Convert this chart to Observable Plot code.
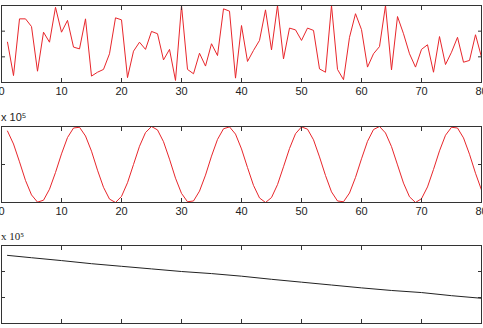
<!DOCTYPE html>
<html>
<head>
<meta charset="utf-8">
<script src="https://cdn.jsdelivr.net/npm/d3@7"></script>
<script src="https://cdn.jsdelivr.net/npm/@observablehq/plot@0.6"></script>
<style>
  html, body { margin: 0; padding: 0; background: #fff; }
  #chart svg { display: block; }
</style>
</head>
<body>
<div id="chart"></div>
<script>
// x positions (samples 1..80)
const xLabelTicks = [0, 10, 20, 30, 40, 50, 60, 70, 80];
const xInnerTicks = [10, 20, 30, 40, 50, 60, 70];

// Panel 1: noisy red series
const noiseValues = [
  1.57, 0.27, 2.48, 2.48, 2.18, 0.44, 1.96, 1.57, 2.93, 1.96,
  2.42, 1.38, 1.31, 2.48, 0.25, 0.40, 0.51, 1.12, 2.52, 2.44,
  0.19, 1.22, 1.57, 1.29, 1.99, 1.90, 0.88, 1.29, 0.08, 3.00,
  0.51, 0.34, 1.14, 0.64, 1.51, 1.05, 2.87, 2.78, 0.17, 2.22,
  0.82, 1.25, 1.64, 2.83, 1.27, 3.00, 0.92, 2.12, 2.05, 1.64,
  2.12, 2.03, 0.53, 0.40, 3.00, 0.51, 0.11, 1.76, 2.68, 2.06,
  0.60, 1.12, 1.40, 3.00, 0.49, 2.57, 1.90, 1.12, 0.60, 1.29,
  1.47, 0.40, 1.79, 0.70, 1.18, 1.76, 0.79, 0.86, 1.86, 0.99
];
const noiseYTicks = [1, 2];

// Panel 2: oscillating red series (x 10^5)
const waveValues = [
  0.88, 0.54, 0.07, -0.42, -0.80, -0.99, -0.94, -0.65, -0.21, 0.28,
  0.71, 0.96, 0.98, 0.75, 0.35, -0.15, -0.60, -0.91, -1.00, -0.84,
  -0.48, 0.00, 0.48, 0.84, 1.00, 0.91, 0.60, 0.14, -0.36, -0.76,
  -0.98, -0.96, -0.70, -0.28, 0.22, 0.66, 0.94, 0.99, 0.80, 0.41,
  -0.08, -0.55, -0.88, -1.00, -0.87, -0.53, -0.06, 0.42, 0.81, 0.99,
  0.93, 0.65, 0.20, -0.29, -0.72, -0.96, -0.98, -0.75, -0.34, 0.15,
  0.61, 0.92, 1.00, 0.83, 0.47, -0.01, -0.49, -0.85, -1.00, -0.90,
  -0.59, -0.13, 0.36, 0.77, 0.98, 0.96, 0.70, 0.27, -0.23, -0.67
];
const waveYTicks = [0];

// Panel 3: slowly decreasing black series (x 10^5)
const trendX = [1, 5, 10, 15, 20, 25, 30, 35, 40, 45, 50, 55, 60, 65, 70, 75, 80];
const trendValues = [2.62, 2.53, 2.42, 2.30, 2.20, 2.10, 2.00, 1.92, 1.82, 1.70, 1.59, 1.48, 1.37, 1.27, 1.19, 1.07, 0.97];
const trendYTicks = [1, 2];

const scaleLabel = "x 10⁵";

const FONT = "'Liberation Sans', Arial, sans-serif";
const AX = "#333";

function axes(yTicks, showLabels) {
  const m = [
    Plot.frame({stroke: AX, strokeWidth: 1}),
    Plot.axisX(xInnerTicks, {anchor: "bottom", tickSize: -4, tickFormat: () => "", stroke: AX}),
    Plot.axisX(xInnerTicks, {anchor: "top", tickSize: -4, tickFormat: () => "", stroke: AX}),
    Plot.axisY(yTicks, {anchor: "left", tickSize: -4, tickFormat: () => "", stroke: AX}),
    Plot.axisY(yTicks, {anchor: "right", tickSize: -4, tickFormat: () => "", stroke: AX})
  ];
  if (showLabels) {
    m.push(Plot.axisX(xLabelTicks, {anchor: "bottom", tickSize: 0, tickPadding: 5, fontSize: 11, fill: "#222", label: null}));
  }
  return m;
}

function panel({height, marginTop, marginBottom, yDomain, marks}) {
  return Plot.plot({
    width: 483,
    height,
    marginLeft: 1,
    marginRight: 2,
    marginTop,
    marginBottom,
    style: {fontFamily: FONT, fontSize: "11px", color: "#222", background: "#fff"},
    x: {domain: [0, 80], label: null},
    y: {domain: yDomain, label: null},
    marks
  });
}

const noiseData = noiseValues.map((v, i) => ({x: i + 1, y: v}));
const waveData = waveValues.map((v, i) => ({x: i + 1, y: v}));
const trendData = trendValues.map((v, i) => ({x: trendX[i], y: v}));

const p1 = panel({
  height: 100, marginTop: 5, marginBottom: 18, yDomain: [0, 3],
  marks: [
    Plot.lineY(noiseData, {x: "x", y: "y", stroke: "#e8262b", strokeWidth: 1, clip: true}),
    ...axes(noiseYTicks, true)
  ]
});

const p2 = panel({
  height: 120, marginTop: 26, marginBottom: 18, yDomain: [-1, 1],
  marks: [
    Plot.lineY(waveData, {x: "x", y: "y", stroke: "#e8262b", strokeWidth: 1, clip: true}),
    ...axes(waveYTicks, true),
    Plot.text([scaleLabel], {frameAnchor: "top-left", text: d => d, dy: -9, dx: -0.5, textAnchor: "start", lineAnchor: "middle", fontSize: 11, fill: "#222"})
  ]
});

const p3 = panel({
  height: 108, marginTop: 25, marginBottom: 5, yDomain: [0, 3],
  marks: [
    Plot.lineY(trendData, {x: "x", y: "y", stroke: "#222", strokeWidth: 1}),
    ...axes(trendYTicks, false),
    Plot.text([scaleLabel], {frameAnchor: "top-left", text: d => d, dy: -9, dx: -0.5, textAnchor: "start", lineAnchor: "middle", fontSize: 11, fill: "#222", fontFamily: "'Liberation Serif', serif"})
  ]
});

const root = document.getElementById("chart");
root.append(p1, p2, p3);
</script>
</body>
</html>
